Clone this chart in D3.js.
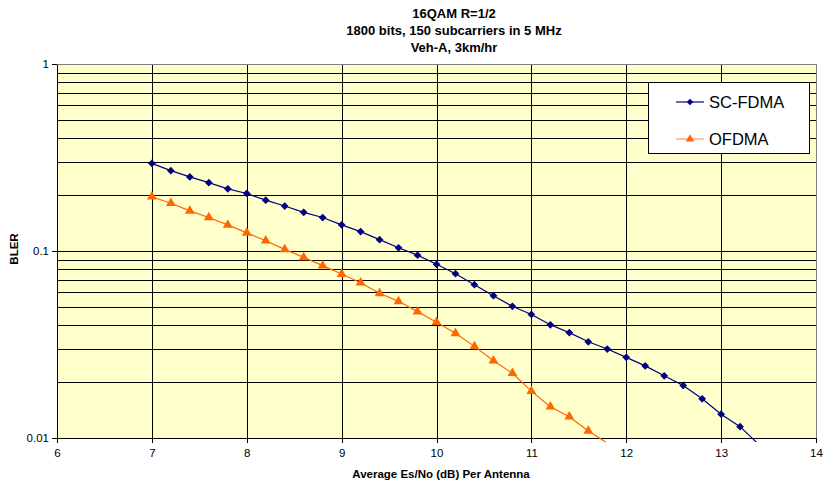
<!DOCTYPE html>
<html>
<head>
<meta charset="utf-8">
<script src="https://cdn.jsdelivr.net/npm/d3@7"></script>
<style>
  body { margin: 0; background: #fff; }
  svg { display: block; font-family: Arial, "Liberation Sans", sans-serif; }
</style>
</head>
<body>
<div id="chart"></div>
<script>
// data
var titleLines = ["16QAM R=1/2", "1800 bits, 150 subcarriers in 5 MHz", "Veh-A, 3km/hr"];
var xTicks = [6, 7, 8, 9, 10, 11, 12, 13, 14];
var yTicks = [0.01, 0.1, 1];
var yTickLabels = ["0.01", "0.1", "1"];

var scX = [7, 7.2, 7.4, 7.6, 7.8, 8, 8.2, 8.4, 8.6, 8.8, 9, 9.2, 9.4, 9.6, 9.8,
  10, 10.2, 10.4, 10.6, 10.8, 11, 11.2, 11.4, 11.6, 11.8, 12, 12.2, 12.4, 12.6, 12.8, 13, 13.2, 13.4];
var scFdma = [0.294, 0.269, 0.249, 0.232, 0.215, 0.203, 0.187, 0.174, 0.161, 0.151, 0.138, 0.127, 0.115, 0.104, 0.095,
  0.0849, 0.0756, 0.066, 0.0577, 0.0506, 0.0458, 0.0403, 0.0366, 0.0327, 0.0299, 0.027, 0.0243, 0.0215, 0.0191, 0.0162, 0.0134, 0.0115, 0.0092];

var ofX = [7, 7.2, 7.4, 7.6, 7.8, 8, 8.2, 8.4, 8.6, 8.8, 9, 9.2, 9.4, 9.6, 9.8,
  10, 10.2, 10.4, 10.6, 10.8, 11, 11.2, 11.4, 11.6, 11.8];
var ofdma = [0.195, 0.18, 0.164, 0.151, 0.138, 0.125, 0.1135, 0.102, 0.0925, 0.0835, 0.0753, 0.0677, 0.0594, 0.0538, 0.0474,
  0.0416, 0.0363, 0.0309, 0.0259, 0.0222, 0.0178, 0.0147, 0.013, 0.0109, 0.0094];

var seriesNames = ["SC-FDMA", "OFDMA"];
var seriesColors = ["#000080", "#ff6600"];

var W = 824, H = 481;
var plot = { left: 57, top: 64, right: 816, bottom: 438 };

var svg = d3.select("#chart").append("svg").attr("width", W).attr("height", H);

var x = d3.scaleLinear().domain([6, 14]).range([plot.left, plot.right]);
var y = d3.scaleLog().domain([0.01, 1]).range([plot.bottom, plot.top]);

// plot background
svg.append("rect")
  .attr("x", plot.left).attr("y", plot.top)
  .attr("width", plot.right - plot.left).attr("height", plot.bottom - plot.top)
  .attr("fill", "#ffffcc");

// gridlines
var grid = svg.append("g").attr("shape-rendering", "crispEdges");
grid.selectAll("line.h").data(y.ticks()).enter().append("line")
  .attr("class", "h")
  .attr("x1", plot.left).attr("x2", plot.right)
  .attr("y1", function (d) { return Math.round(y(d)) + 0.5; })
  .attr("y2", function (d) { return Math.round(y(d)) + 0.5; })
  .attr("stroke", "#000").attr("stroke-width", 1);
grid.selectAll("line.v").data(xTicks).enter().append("line")
  .attr("class", "v")
  .attr("y1", plot.top).attr("y2", plot.bottom)
  .attr("x1", function (d) { return Math.round(x(d)) + 0.5; })
  .attr("x2", function (d) { return Math.round(x(d)) + 0.5; })
  .attr("stroke", "#000").attr("stroke-width", 1);

// plot border
svg.append("rect")
  .attr("x", plot.left + 0.5).attr("y", plot.top + 0.5)
  .attr("width", plot.right - plot.left).attr("height", plot.bottom - plot.top)
  .attr("fill", "none").attr("stroke", "#808080").attr("shape-rendering", "crispEdges");

// axes
var xAxis = d3.axisBottom(x).tickValues(xTicks).tickSize(5).tickSizeOuter(0);
var xAxisG = svg.append("g")
  .attr("transform", "translate(0," + plot.bottom + ")")
  .call(xAxis);
var yAxis = d3.axisLeft(y).tickValues(yTicks).tickSize(5).tickSizeOuter(0)
  .tickFormat(function (d, i) { return yTickLabels[i]; });
var yAxisG = svg.append("g")
  .attr("transform", "translate(" + plot.left + ",0)")
  .call(yAxis);
[xAxisG, yAxisG].forEach(function (g) {
  g.selectAll("path, line").attr("stroke", "#000").attr("shape-rendering", "crispEdges");
  g.selectAll("text").attr("fill", "#000").style("font-size", "11.5px")
    .style("font-family", "Arial, 'Liberation Sans', sans-serif");
});
xAxisG.selectAll("text").attr("dy", null).attr("y", 19);
yAxisG.selectAll("text").attr("x", -8);

// clip paths
var defs = svg.append("defs");
defs.append("clipPath").attr("id", "clipLine").append("rect")
  .attr("x", plot.left).attr("y", plot.top)
  .attr("width", plot.right - plot.left).attr("height", plot.bottom - plot.top + 4);
defs.append("clipPath").attr("id", "clipMark").append("rect")
  .attr("x", plot.left).attr("y", plot.top)
  .attr("width", plot.right - plot.left).attr("height", plot.bottom - plot.top + 1);

var line = d3.line()
  .x(function (d) { return x(d[0]); })
  .y(function (d) { return y(d[1]); });

var seriesData = [d3.zip(scX, scFdma), d3.zip(ofX, ofdma)];
// Excel diamond = square turned 45 degrees
var symbols = [d3.symbolSquare, d3.symbolTriangle];
var symbolSizes = [30, 42];
var symbolRotate = [45, 0];

seriesData.forEach(function (data, i) {
  svg.append("path").datum(data)
    .attr("clip-path", "url(#clipLine)")
    .attr("d", line)
    .attr("fill", "none")
    .attr("stroke", seriesColors[i])
    .attr("stroke-width", 1.2);
  svg.append("g").attr("clip-path", "url(#clipMark)")
    .selectAll("path").data(data.filter(function (d) { return d[1] >= 0.01; }))
    .enter().append("path")
    .attr("d", d3.symbol().type(symbols[i]).size(symbolSizes[i]))
    .attr("transform", function (d) {
      return "translate(" + x(d[0]) + "," + y(d[1]) + ") rotate(" + symbolRotate[i] + ")";
    })
    .attr("fill", seriesColors[i]);
});

// legend
var legend = svg.append("g");
legend.append("rect")
  .attr("x", 648.5).attr("y", 82.5).attr("width", 161).attr("height", 71)
  .attr("fill", "#fff").attr("stroke", "#000").attr("shape-rendering", "crispEdges");
var legendY = [102, 139];
var legendLineColors = ["#000080", "#ff9966"];
seriesNames.forEach(function (name, i) {
  legend.append("line")
    .attr("x1", 676).attr("x2", 704)
    .attr("y1", legendY[i]).attr("y2", legendY[i])
    .attr("stroke", legendLineColors[i]).attr("stroke-width", 1.2);
  legend.append("path")
    .attr("d", d3.symbol().type(symbols[i]).size(i === 0 ? 20 : 30))
    .attr("transform", "translate(690," + legendY[i] + ") rotate(" + symbolRotate[i] + ")")
    .attr("fill", seriesColors[i]);
  legend.append("text")
    .attr("x", 709).attr("y", legendY[i] + 6)
    .style("font-size", "16.5px").attr("fill", "#000")
    .text(name);
});

// titles
svg.append("g").selectAll("text").data(titleLines).enter().append("text")
  .attr("x", 454)
  .attr("y", function (d, i) { return 18 + i * 16.8; })
  .attr("text-anchor", "middle")
  .style("font-size", "13px").style("font-weight", "bold")
  .text(function (d) { return d; });

svg.append("text")
  .attr("x", 441).attr("y", 478)
  .attr("text-anchor", "middle")
  .style("font-size", "11.5px").style("font-weight", "bold")
  .text("Average Es/No (dB) Per Antenna");

svg.append("text")
  .attr("transform", "translate(18,249) rotate(-90)")
  .attr("text-anchor", "middle")
  .style("font-size", "11.5px").style("font-weight", "bold")
  .text("BLER");
</script>
</body>
</html>
